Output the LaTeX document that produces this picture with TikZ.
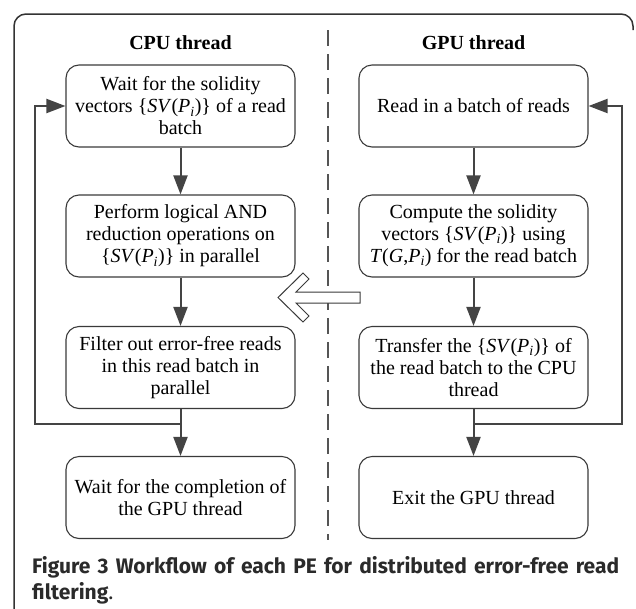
\documentclass[tikz,border=0pt]{standalone}
\usepackage{fontspec}
\setmainfont{Liberation Serif}
\newfontfamily\capfont{Fira Sans}
\usetikzlibrary{arrows.meta}
\definecolor{boxgray}{HTML}{3A3A3A}
\definecolor{linegray}{HTML}{444444}
\definecolor{framegray}{HTML}{333333}
\definecolor{dashgray}{HTML}{555555}
\definecolor{capgray}{HTML}{2A2A2A}
\newcommand\svpi{\{\textit{SV}(\textit{P}\textsubscript{\textit{i}})\}}
\begin{document}
\begin{tikzpicture}[x=1pt,y=-1pt,
  box/.style={draw=boxgray, line width=1.1pt, rounded corners=13pt,
    minimum width=229pt, minimum height=82pt, align=center, inner sep=0pt,
    font=\fontsize{20}{22}\selectfont},
  flow/.style={draw=linegray, line width=2pt, -{Triangle[length=19pt,width=14pt]}},
  head/.style={font=\fontsize{20}{22}\selectfont\bfseries},
  hollow/.style={draw=boxgray, line width=1pt, fill=white, line join=miter}]
\useasboundingbox (0,0) rectangle (636,608);
% frame
\draw[framegray, line width=1.5pt, rounded corners=12pt] (14,612) -- (14,14) -- (633,14) -- (633,30);
% divider
\draw[dashgray, line width=1.3pt, dash pattern=on 16pt off 8pt] (328,30) -- (328,540);
% headings
\node[head] (ch) at (180.5,43) {CPU thread};
\node[head] (gh) at (473.5,43) {GPU thread};
% CPU boxes
\node[box] (c1) at (180.5,106) {Wait for the solidity\\ vectors \svpi{} of a read\\ batch};
\node[box] (c2) at (180.5,236) {Perform logical AND\\ reduction operations on\\ \svpi{} in parallel};
\node[box] (c3) at (180.5,367.5) {Filter out error-free reads\\ in this read batch in\\ parallel};
\node[box] (c4) at (180.5,497.5) {Wait for the completion of\\ the GPU thread};
% GPU boxes
\node[box] (g1) at (473.5,106) {Read in a batch of reads};
\node[box] (g2) at (473.5,236) {Compute the solidity\\ vectors \svpi{} using\\ \textit{T}(\textit{G},\textit{P}\textsubscript{\textit{i}}) for the read batch};
\node[box] (g3) at (473.5,367.5) {Transfer the \svpi{} of\\ the read batch to the CPU\\ thread};
\node[box] (g4) at (473.5,497.5) {Exit the GPU thread};
% CPU flow
\draw[flow] (c1) -- (c2);
\draw[flow] (c2) -- (c3);
\draw[flow] (c3) -- (c4);
\coordinate (cj) at (180.5,424);
\coordinate (cl) at (35,424);
\draw[flow] (cj) -- (cl) |- (c1.west);
% GPU flow
\draw[flow] (g1) -- (g2);
\draw[flow] (g2) -- (g3);
\draw[flow] (g3) -- (g4);
\coordinate (gj) at (473.5,424);
\coordinate (gr) at (622,424);
\draw[flow] (gj) -- (gr) |- (g1.east);
% hollow transfer arrow
\draw[hollow] (278,297.5) -- (303,273) -- (309,279) -- (296,292) -- (360,292) -- (360,303)
  -- (296,303) -- (309,316) -- (303,322) -- cycle;
% caption
\node[anchor=base west, inner sep=0pt, text=capgray, font=\capfont\fontsize{21}{22}\selectfont\bfseries]
  (cap1) at (32,573) {\makebox[587pt][s]{Figure 3 Workflow of each PE for distributed error-free read}};
\node[anchor=base west, inner sep=0pt, text=capgray, font=\capfont\fontsize{21}{22}\selectfont]
  (cap2) at (32,599) {\textbf{filtering}.};
\end{tikzpicture}
\end{document}
